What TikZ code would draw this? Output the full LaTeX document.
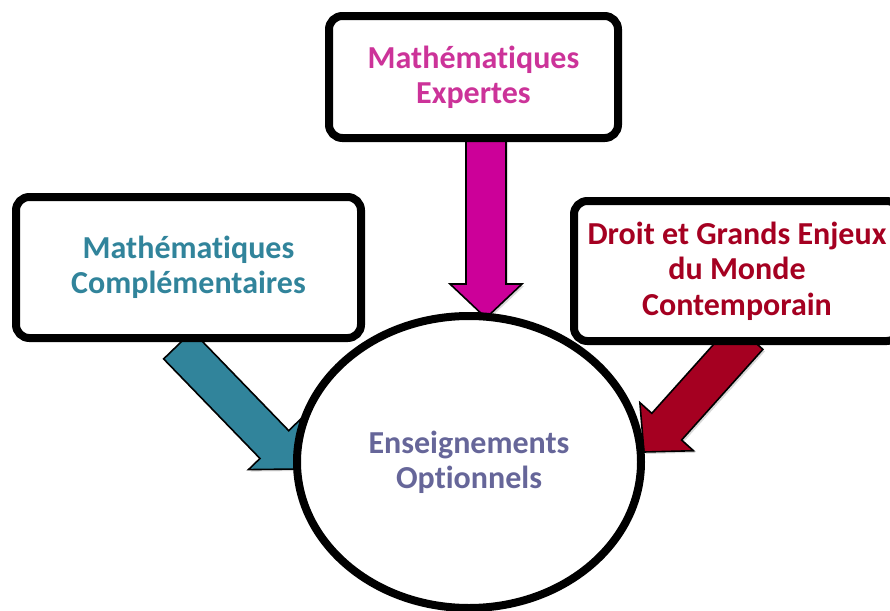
\documentclass[tikz,border=0pt]{standalone}
\usepackage{fontspec}
\setmainfont{Carlito}[Ligatures=NoCommon]
\usetikzlibrary{positioning,shapes,calc,shadows}
\pgfdeclarelayer{background}
\pgfsetlayers{background,main}
\definecolor{expcol}{HTML}{CC0099}
\definecolor{exptext}{HTML}{CC3399}
\definecolor{compcol}{HTML}{31849B}
\definecolor{droitcol}{HTML}{A50021}
\definecolor{optcol}{HTML}{666699}
\newcommand{\bigarrow}[3]{%
  \coordinate (hb) at ($(#2)!25.5pt!(#1)$);
  \filldraw[fill=#3, draw=black, line width=1.2pt, shadowed]
    ($(#1)!15pt!90:(#2)$) -- ($(hb)!15pt!90:(#2)$) -- ($(hb)!27pt!90:(#2)$)
    -- (#2) -- ($(hb)!27pt!-90:(#2)$) -- ($(hb)!15pt!-90:(#2)$)
    -- ($(#1)!15pt!-90:(#2)$) -- cycle;
}

\begin{document}
\begin{tikzpicture}[x=0.75pt,y=-0.75pt,
   shadowed/.style={drop shadow={shadow xshift=1.5pt,shadow yshift=-1.5pt,opacity=0.3}},
   box/.style={draw, line width=6pt, rounded corners=10pt, fill=white, align=center,
     inner sep=0pt, font=\bfseries\fontsize{24}{26.5}\selectfont, shadowed},
   center/.style={ellipse, draw, line width=6pt, fill=white, align=center, inner sep=0pt,
     minimum width=258pt, minimum height=219pt, font=\bfseries\fontsize{24}{26.5}\selectfont}]
   \useasboundingbox (0,0) rectangle (890,611);
   \clip (0,0) rectangle (890,611);
   \node[box, text=exptext, minimum width=216.75pt, minimum height=91.5pt] (expert) at (473.5,77) {Mathématiques\\Expertes};
   \node[box, text=compcol, minimum width=258.75pt, minimum height=105.75pt] (compl) at (188.5,267.5) {Mathématiques\\Complémentaires};
   \node[box, text=droitcol, minimum width=244.5pt, minimum height=105pt] (droit) at (737,271) {Droit et Grands Enjeux\\du Monde\\Contemporain};
   \node[center, text=optcol] (opt) at (469,462) {Enseignements\\Optionnels};
   \coordinate (expA) at (486,130);
   \coordinate (expB) at (486,318);
   \coordinate (compA) at (178,345);
   \coordinate (compB) at (298,469);
   \coordinate (droitA) at (748,336);
   \coordinate (droitB) at (644,452);
   \begin{pgfonlayer}{background}
   \bigarrow{expA}{expB}{expcol}
   \bigarrow{compA}{compB}{compcol}
   \bigarrow{droitA}{droitB}{droitcol}
   \end{pgfonlayer}
\end{tikzpicture}
\end{document}
